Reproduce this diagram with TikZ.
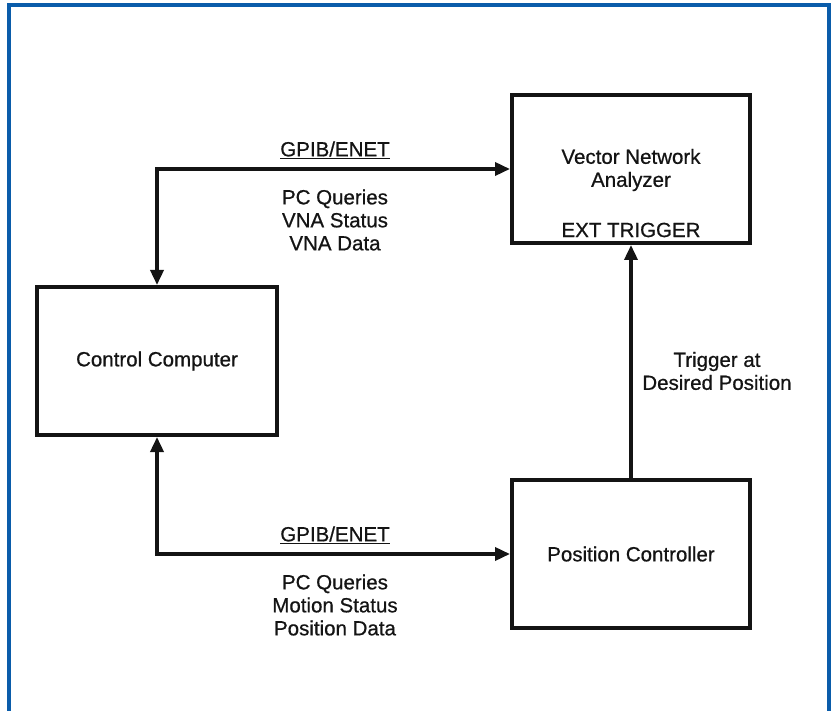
\documentclass[tikz,border=0pt]{standalone}
\usepackage{fontspec}
\setmainfont{Liberation Sans}
\newfontfamily\reffont{Liberation Sans}[FakeBold=0.7]
\usetikzlibrary{arrows.meta}
\definecolor{frameblue}{RGB}{10,92,170}
\definecolor{inkc}{RGB}{20,20,20}
\begin{document}
\begin{tikzpicture}[x=1pt,y=-1pt,
  box/.style={draw=inkc, line width=4pt, minimum width=238pt, minimum height=148pt, inner sep=0pt},
  txt/.style={font=\reffont\fontsize{20.5}{23}\selectfont, text=inkc, align=center, inner sep=0pt},
  conn/.style={draw=inkc, line width=3.5pt, {Triangle[length=15pt,width=13pt]}-{Triangle[length=15pt,width=13pt]}},
  conn1/.style={draw=inkc, line width=3.5pt, -{Triangle[length=15pt,width=13pt]}},
]
\useasboundingbox (0,0) rectangle (833,711);
\draw[frameblue, line width=3.2pt] (9,711) -- (9,5) -- (829,5) -- (829,711);

\node[box] (vna) at (631,169) {};
\node[box, minimum width=240pt] (cc) at (157,361) {};
\node[box] (pc) at (631,554) {};

\node[txt] (vnat) at (631,170) {Vector Network\\Analyzer};
\node[txt] (ext) at (631,230) {EXT TRIGGER};
\node[txt] (cct) at (cc.center) {Control Computer};
\node[txt] (pct) at (pc.center) {Position Controller};

\draw[conn] (cc.north) |- (vna.west);
\draw[conn] (cc.south) |- (pc.west);
\draw[conn1] (pc.north) -- (vna.south);

\node[txt] (g1) at (335,150) {\underline{GPIB/ENET}};
\node[txt] (q1) at (335,220) {PC Queries\\VNA Status\\VNA Data};
\node[txt] (g2) at (335,535) {\underline{GPIB/ENET}};
\node[txt] (q2) at (335,605) {PC Queries\\Motion Status\\Position Data};
\node[txt] (trg) at (717,371) {Trigger at\\Desired Position};
\end{tikzpicture}
\end{document}
